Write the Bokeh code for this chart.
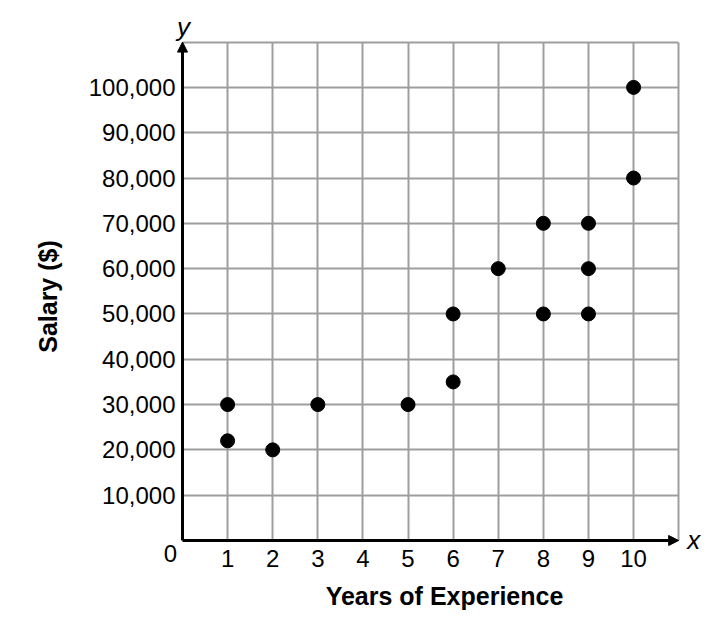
from bokeh.plotting import figure
from bokeh.models import Range1d, FixedTicker, Label, Arrow, NormalHead, NumeralTickFormatter
from bokeh.embed import file_html
from bokeh.resources import INLINE

# ---- data ----
years = [1, 1, 2, 3, 5, 6, 6, 7, 8, 8, 9, 9, 9, 10, 10]
salary = [30000, 22000, 20000, 30000, 30000, 35000, 50000, 60000,
          70000, 50000, 70000, 60000, 50000, 100000, 80000]
x_ticks = list(range(1, 11))
y_ticks = list(range(10000, 110000, 10000))
x_grid = list(range(1, 12))
y_grid = list(range(10000, 120000, 10000))
x_title = "Years of Experience"
y_title = "Salary ($)"

FONT = "Liberation Sans"
X_MAX, Y_MAX = 11, 110000

p = figure(width=728, height=618,
           x_range=Range1d(-0.4434, 12.06), y_range=Range1d(-8830, 116530),
           output_backend="svg", toolbar_location=None,
           min_border_left=162, min_border_right=2,
           min_border_top=12, min_border_bottom=38)
p.outline_line_color = None
p.background_fill_color = "white"

# grid limited to the first quadrant
p.xgrid.ticker = FixedTicker(ticks=x_grid)
p.ygrid.ticker = FixedTicker(ticks=y_grid)
p.grid.grid_line_color = "#9e9e9e"
p.grid.grid_line_width = 2
try:
    p.xgrid.cross_bounds = (0, Y_MAX)
    p.ygrid.cross_bounds = (0, X_MAX)
except Exception:
    p.grid.visible = False
    p.segment(x0=x_grid, y0=[0] * len(x_grid), x1=x_grid, y1=[Y_MAX] * len(x_grid),
              line_color="#9e9e9e", line_width=2)
    p.segment(x0=[0] * len(y_grid), y0=y_grid, x1=[X_MAX] * len(y_grid), y1=y_grid,
              line_color="#9e9e9e", line_width=2)

# axes (tick labels and titles only)
p.xaxis.ticker = FixedTicker(ticks=x_ticks)
p.yaxis.ticker = FixedTicker(ticks=y_ticks)
p.yaxis.formatter = NumeralTickFormatter(format="0,0")
for ax in (p.xaxis[0], p.yaxis[0]):
    ax.axis_line_color = None
    ax.major_tick_line_color = None
    ax.minor_tick_line_color = None
    ax.major_tick_in = 0
    ax.major_tick_out = 0
    ax.minor_tick_in = 0
    ax.minor_tick_out = 0
    ax.major_label_text_font = FONT
    ax.major_label_text_font_size = "24px"
    ax.major_label_text_color = "black"
    ax.axis_label_text_font = FONT
    ax.axis_label_text_font_size = "25px"
    ax.axis_label_text_font_style = "bold"
    ax.axis_label_text_color = "black"

p.xaxis.axis_label = x_title
p.yaxis.axis_label = y_title
p.xaxis.major_label_standoff = -31
p.yaxis.major_label_standoff = -13
p.xaxis.axis_label_standoff = 12
p.yaxis.axis_label_standoff = 24

# axis lines with arrowheads
p.add_layout(Arrow(end=NormalHead(size=10, fill_color="black", line_color="black"),
                   x_start=0, y_start=0, x_end=X_MAX, y_end=0,
                   line_width=3, line_color="black"))
p.add_layout(Arrow(end=NormalHead(size=10, fill_color="black", line_color="black"),
                   x_start=0, y_start=0, x_end=0, y_end=Y_MAX,
                   line_width=3, line_color="black"))

# points
p.scatter(years, salary, size=14, color="black")

# origin and axis letters
p.add_layout(Label(x=0, y=0, text="0", x_offset=-12, y_offset=-13,
                   text_align="center", text_baseline="middle",
                   text_font=FONT, text_font_size="24px", text_color="black"))
p.add_layout(Label(x=0, y=Y_MAX, text="y", x_offset=1, y_offset=15,
                   text_align="center", text_baseline="middle",
                   text_font=FONT, text_font_size="26px", text_font_style="italic",
                   text_color="black"))
p.add_layout(Label(x=X_MAX, y=0, text="x", x_offset=15, y_offset=0,
                   text_align="center", text_baseline="middle",
                   text_font=FONT, text_font_size="26px", text_font_style="italic",
                   text_color="black"))

open("out.html", "w").write(file_html(p, INLINE))
